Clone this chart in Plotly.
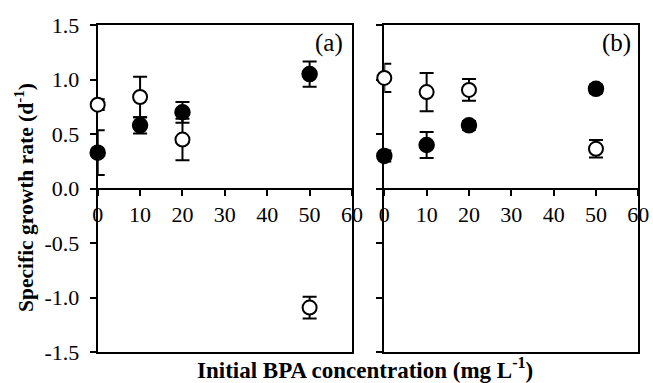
import plotly.graph_objects as go

conc = [0, 10, 20, 50]
x_ticks = [0, 10, 20, 30, 40, 50, 60]
y_ticks = [-1.5, -1.0, -0.5, 0.0, 0.5, 1.0, 1.5]
y_tick_text = ["-1.5", "-1.0", "-0.5", "0.0", "0.5", "1.0", "1.5"]

a_filled = [0.33, 0.58, 0.70, 1.05]
a_filled_err = [0.205, 0.075, 0.095, 0.115]
a_open = [0.77, 0.84, 0.45, -1.09]
a_open_err = [0.05, 0.185, 0.19, 0.10]

b_filled = [0.30, 0.40, 0.58, 0.915]
b_filled_err = [0.05, 0.12, 0.04, 0.04]
b_open = [1.015, 0.885, 0.905, 0.365]
b_open_err = [0.13, 0.175, 0.10, 0.08]

FONT = "Liberation Serif"
W, H = 653, 383
xa_dom = [97.7 / W, 352.0 / W]
xb_dom = [384.3 / W, 638.3 / W]
y_dom = [1 - 352.3 / H, 1 - 25.0 / H]
y_mid = (y_dom[0] + y_dom[1]) / 2

fig = go.Figure()

# (frame x-axis, tick x-axis at y=0, y-axis, data)
panels = [
    ("x", "x3", "y", a_filled, a_filled_err, a_open, a_open_err),
    ("x2", "x4", "y2", b_filled, b_filled_err, b_open, b_open_err),
]

for xf, xt, yr, fy, fe, oy, oe in panels:
    # error bars, clipped to the plot area (on the frame axis)
    for vals, errs in [(fy, fe), (oy, oe)]:
        fig.add_trace(go.Scatter(
            x=conc, y=vals, xaxis=xf, yaxis=yr, mode="markers",
            marker=dict(size=1, color="rgba(0,0,0,0)"),
            error_y=dict(type="data", array=errs, visible=True,
                         color="black", thickness=2, width=7),
            cliponaxis=True, showlegend=False, hoverinfo="skip"))
    # markers, not clipped (on the tick axis placed at y = 0)
    fig.add_trace(go.Scatter(
        x=conc, y=fy, xaxis=xt, yaxis=yr, mode="markers",
        marker=dict(size=15, color="black", line=dict(color="black", width=1.5)),
        cliponaxis=False, showlegend=False))
    fig.add_trace(go.Scatter(
        x=conc, y=oy, xaxis=xt, yaxis=yr, mode="markers",
        marker=dict(size=14, color="white", line=dict(color="black", width=2)),
        cliponaxis=False, showlegend=False))

# tick axis drawn along y = 0
tcommon = dict(range=[0, 60], tickvals=x_ticks, ticks="outside", ticklen=6,
               tickwidth=2, tickcolor="black", showline=True, linecolor="black",
               linewidth=2, showgrid=False, zeroline=False, anchor="free",
               position=y_mid, side="bottom", layer="below traces", automargin=False,
               tickfont=dict(family=FONT, size=22, color="black"))
# frame axis: bottom line + mirrored top line
fcommon = dict(range=[0, 60], showline=True, mirror=True, linecolor="black",
               linewidth=2, ticks="", showticklabels=False, showgrid=False,
               zeroline=False, automargin=False, layer="below traces")
ycommon = dict(range=[-1.5, 1.5], tickvals=y_ticks, ticktext=y_tick_text,
               ticks="outside", ticklen=6, tickwidth=2, tickcolor="black",
               showline=True, mirror=True, linecolor="black", linewidth=2,
               showgrid=False, zeroline=False, domain=y_dom,
               layer="below traces", automargin=False,
               tickfont=dict(family=FONT, size=22, color="black"))

fig.update_layout(
    template="none",
    width=W, height=H, margin=dict(l=0, r=0, t=0, b=0, pad=0, autoexpand=False),
    paper_bgcolor="white", plot_bgcolor="white",
    font=dict(family=FONT, color="black"),
    xaxis=dict(domain=xa_dom, anchor="y", **fcommon),
    xaxis2=dict(domain=xb_dom, anchor="y2", **fcommon),
    xaxis3=dict(domain=xa_dom, overlaying="x", **tcommon),
    xaxis4=dict(domain=xb_dom, overlaying="x2", **tcommon),
    yaxis=dict(anchor="x", ticklabelstandoff=6, **ycommon),
    yaxis2=dict(anchor="x2", showticklabels=False, **ycommon),
)

fig.add_annotation(text="(a)", x=345 / W, y=1 - 43 / H, xref="paper", yref="paper",
                   xanchor="right", yanchor="middle", showarrow=False,
                   font=dict(family=FONT, size=25, color="black"))
fig.add_annotation(text="(b)", x=633 / W, y=1 - 43 / H, xref="paper", yref="paper",
                   xanchor="right", yanchor="middle", showarrow=False,
                   font=dict(family=FONT, size=25, color="black"))
fig.add_annotation(text="<b>Initial BPA concentration (mg L<sup>-1</sup>)</b>",
                   x=364.5 / W, y=1 - 368 / H, xref="paper", yref="paper",
                   xanchor="center", yanchor="middle", showarrow=False,
                   font=dict(family=FONT, size=23, color="black"))
fig.add_annotation(text="<b>Specific growth rate (d<sup>-1</sup>)</b>",
                   x=24 / W, y=1 - 198 / H, xref="paper", yref="paper",
                   xanchor="center", yanchor="middle", textangle=-90, showarrow=False,
                   font=dict(family=FONT, size=21.5, color="black"))

fig.write_html("out.html")
